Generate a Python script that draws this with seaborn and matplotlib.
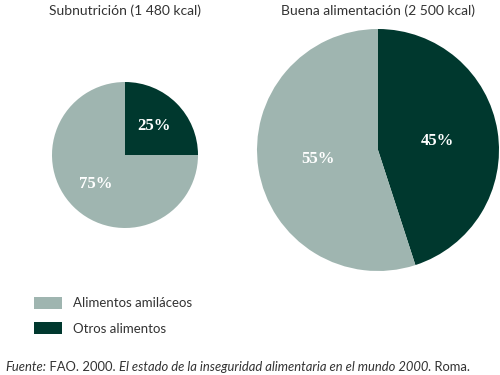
import matplotlib
matplotlib.use("Agg")
import matplotlib.pyplot as plt
import seaborn as sns

sns.set_theme(style="white")
plt.rcParams['font.family'] = ['Lato', 'DejaVu Sans']

# data
groups = ["Subnutrición (1 480 kcal)", "Buena alimentación (2 500 kcal)"]
kcal = [1480, 2500]
categories = ["Otros alimentos", "Alimentos amiláceos"]
shares_sub = [25, 75]
shares_buena = [45, 55]
legend_order = ["Alimentos amiláceos", "Otros alimentos"]

colors = {"Otros alimentos": "#00382e", "Alimentos amiláceos": "#9fb5b0"}
pal = [colors[c] for c in categories]

fig = plt.figure(figsize=(5, 3.75), dpi=100)
ax = fig.add_axes([0, 0, 1, 1])

# pixel layout of the two pies
centers = [(125, 220), (378, 225)]
radii = [73, 121]
pctd = [0.57, 0.5]

wedge_sets = []
for shares, c, r, pd_ in zip([shares_sub, shares_buena], centers, radii, pctd):
    wedges, texts, autotexts = ax.pie(
        shares, colors=pal, center=c, radius=r, startangle=90,
        counterclock=False, autopct="%d%%", pctdistance=pd_,
        wedgeprops=dict(linewidth=0), frame=True)
    for t in autotexts:
        t.set_color("white")
        t.set_fontsize(12)
        t.set_fontweight("bold")
        t.set_family("Liberation Serif")
    wedge_sets.append(wedges)

ax.set_xlim(0, 500)
ax.set_ylim(0, 375)
ax.set_aspect("equal")
ax.axis("off")

for g, c in zip(groups, centers):
    ax.text(c[0], 364, g, ha="center", va="center", fontsize=10, color="#333333")

handles = [wedge_sets[0][categories.index(n)] for n in legend_order]
fig.legend(handles, legend_order, loc="upper left", bbox_to_anchor=(22 / 500, 1 - 285 / 375),
           frameon=False, fontsize=9.5, handlelength=2.1, handleheight=1.05,
           labelspacing=0.95, handletextpad=0.85, labelcolor="#333333")

# source line with mixed italic pieces
pieces = [("Fuente:", "italic"), (" FAO. 2000. ", "normal"),
          ("El estado de la inseguridad alimentaria en el mundo 2000.", "italic"),
          (" Roma.", "normal")]
renderer = fig.canvas.get_renderer()
x = 5
for s, st in pieces:
    t = fig.text(x / 500, 1 - 367 / 375, s, fontsize=9.4, style=st, color="#333333",
                 ha="left", va="center")
    bb = t.get_window_extent(renderer=renderer)
    x += bb.width

fig.savefig("out.png", dpi=100)
